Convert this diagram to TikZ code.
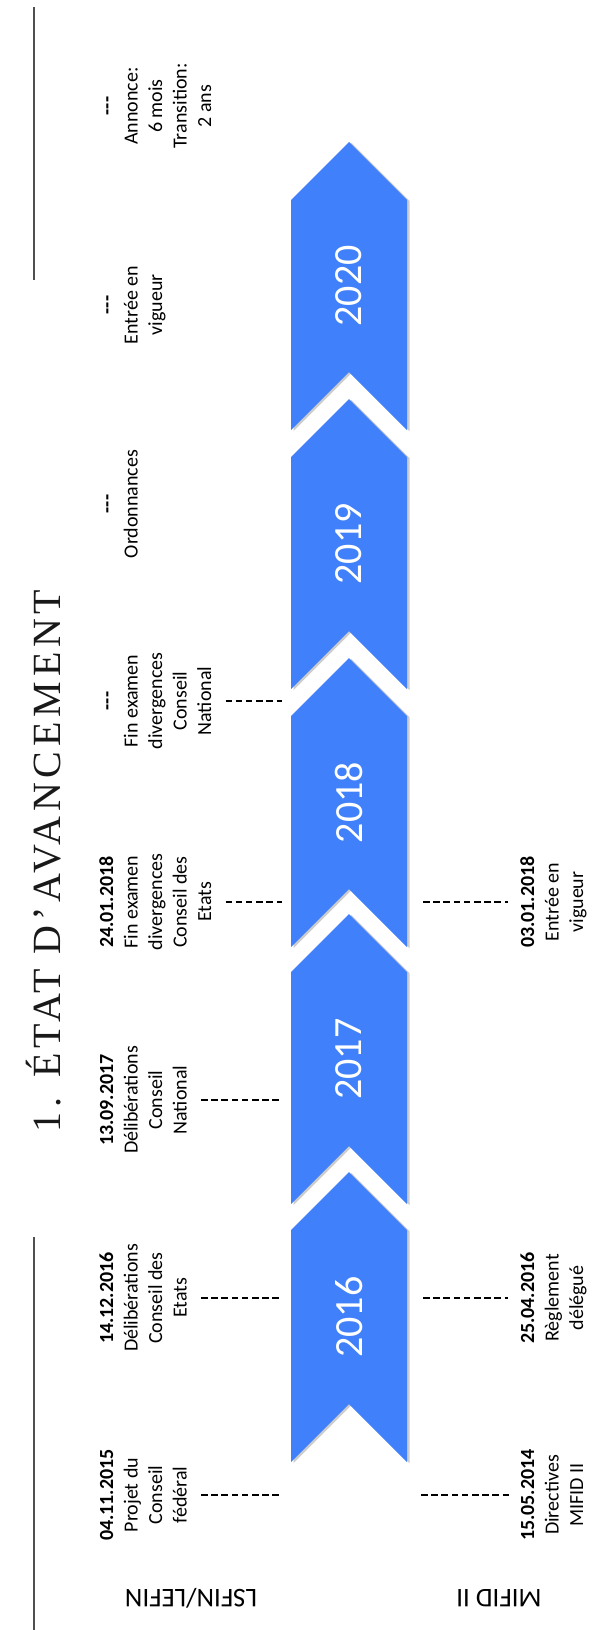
\documentclass[tikz,border=0pt]{standalone}
\usepackage{fontspec}
\setmainfont{Carlito}
\newfontfamily\titlefont[LetterSpace=12]{Liberation Serif}
\usetikzlibrary{shadows}
\definecolor{chevblue}{RGB}{64,128,250}
\definecolor{rulegrey}{RGB}{80,80,80}
\begin{document}
\begin{tikzpicture}[x=1pt,y=-1pt,
  chev/.style={fill=chevblue, draw=none, drop shadow={shadow xshift=2.5pt,shadow yshift=-1pt,opacity=0.4}},
  yearlbl/.style={rotate=90, text=white, font=\fontsize{40}{48}\selectfont, inner sep=0pt},
  evt/.style={rotate=90, align=center, font=\fontsize{20}{24.5}\selectfont, inner sep=0pt, anchor=north},
  conn/.style={black, line width=2.2pt, dash pattern=on 6.5pt off 3.7pt},
  track/.style={rotate=180, font=\fontsize{27}{32}\selectfont, inner sep=0pt},
  rulel/.style={rulegrey, line width=1.8pt}]
\useasboundingbox (0,0) rectangle (592,1630);

% rules
\draw[rulel] (34,7) -- (34,280);
\draw[rulel] (34,1237) -- (34,1630);

% title
\node[rotate=90, inner sep=0pt, text=black!90, font=\titlefont\fontsize{40}{44}\selectfont] (title) at (44,861) {1. ÉTAT D’AVANCEMENT};

% chevrons
\foreach \s/\b/\yr/\nm in {200/430/2020/c20, 457/689/2019/c19, 716/947/2018/c18, 972/1204/2017/c17, 1230/1462/2016/c16}{
  \path[chev] (291,\s) -- (349,\s-58) -- (407,\s) -- (407,\b) -- (349,\b-58) -- (291,\b) -- cycle;
  \node[yearlbl] (\nm) at (349,{(\s-58+\b)/2}) {\yr};
}

% LSFIN events (left)
\node[evt] (e1) at (99,1495) {\rule{0pt}{14pt}\textbf{04.11.2015}\\Projet du\\Conseil\\fédéral};
\node[evt] (e2) at (99,1298) {\rule{0pt}{14pt}\textbf{14.12.2016}\\Délibérations\\Conseil des\\Etats};
\node[evt] (e3) at (99,1100) {\rule{0pt}{14pt}\textbf{13.09.2017}\\Délibérations\\Conseil\\National};
\node[evt] (e4) at (99,902) {\rule{0pt}{14pt}\textbf{24.01.2018}\\Fin examen\\divergences\\Conseil des\\Etats};
\node[evt] (e5) at (99,701) {\rule{0pt}{14pt}\textbf{-{}-{}-}\\Fin examen\\divergences\\Conseil\\National};
\node[evt] (e6) at (99,504) {\rule{0pt}{14pt}\textbf{-{}-{}-}\\Ordonnances};
\node[evt] (e7) at (99,305) {\rule{0pt}{14pt}\textbf{-{}-{}-}\\Entrée en\\vigueur};
\node[evt] (e8) at (99,106) {\rule{0pt}{14pt}\textbf{-{}-{}-}\\Annonce:\\6 mois\\Transition:\\2 ans};

% MIFID events (right)
\node[evt] (m1) at (520,1495) {\rule{0pt}{14pt}\textbf{15.05.2014}\\Directives\\MIFID II};
\node[evt] (m2) at (520,1298) {\rule{0pt}{14pt}\textbf{25.04.2016}\\Règlement\\délégué};
\node[evt] (m3) at (520,902) {\rule{0pt}{14pt}\textbf{03.01.2018}\\Entrée en\\vigueur};

% connector ends on the chevron band
\coordinate (p1) at (279,1495);
\coordinate (p2) at (282,1298);
\coordinate (p3) at (282,1100);
\coordinate (p4) at (282,902);
\coordinate (p5) at (282,701);
\coordinate (q1) at (421,1495);
\coordinate (q2) at (423,1298);
\coordinate (q3) at (423,902);

\draw[conn] ([xshift=14pt]e1.south) -- (p1);
\draw[conn] ([xshift=14pt]e2.south) -- (p2);
\draw[conn] ([xshift=14pt]e3.south) -- (p3);
\draw[conn] ([xshift=14pt]e4.south) -- (p4);
\draw[conn] ([xshift=14pt]e5.south) -- (p5);
\draw[conn] (q1) -- ([xshift=-10pt]m1.north);
\draw[conn] (q2) -- ([xshift=-12pt]m2.north);
\draw[conn] (q3) -- ([xshift=-12pt]m3.north);

% track labels
\node[track] (lsfin) at (191,1598) {LSFIN/LEFIN};
\node[track] (mifid) at (499,1598) {MIFID II};
\end{tikzpicture}
\end{document}
